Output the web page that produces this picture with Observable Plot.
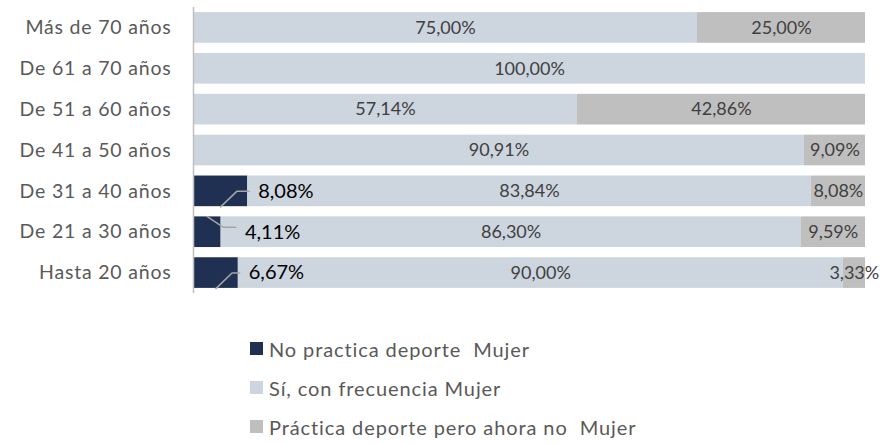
<!DOCTYPE html>
<html>
<head>
<meta charset="utf-8">
<script src="https://cdn.jsdelivr.net/npm/d3@7"></script>
<script src="https://cdn.jsdelivr.net/npm/@observablehq/plot@0.6"></script>
<style>
  body { margin: 0; background: #fff; font-family: Lato, sans-serif; }
  #legend { margin-top: 29px; padding-left: 250px; color: #595959; font-size: 20px; letter-spacing: 0.9px; }
  .row { height: 39px; display: flex; align-items: center; }
  .sw { width: 13px; height: 13px; margin-right: 6px; flex: none; }
  #chart g[aria-label="y-axis tick label"] text { letter-spacing: 0.8px; }
  #chart g[aria-label="segment labels"] text { letter-spacing: 0.5px; }
  #chart g[aria-label="dark labels"] text { letter-spacing: 0.4px; }
</style>
</head>
<body>
<div id="chart"></div>
<div id="legend"></div>
<script>
const categories = ["Más de 70 años","De 61 a 70 años","De 51 a 60 años","De 41 a 50 años","De 31 a 40 años","De 21 a 30 años","Hasta 20 años"];
const noPractica   = [0, 0, 0, 0, 8.08, 4.11, 6.67];
const siFrecuencia = [75.00, 100.00, 57.14, 90.91, 83.84, 86.30, 90.00];
const practicaAntes = [25.00, 0, 42.86, 9.09, 8.08, 9.59, 3.33];
const seriesNames = ["No practica deporte  Mujer", "Sí, con frecuencia Mujer", "Práctica deporte pero ahora no  Mujer"];
const colors = ["#1f3052", "#cdd5df", "#bfbfbf"];

const fmt = v => v.toFixed(2).replace(".", ",") + "%";

const rows = categories.flatMap((c, i) => {
  const vals = [noPractica[i], siFrecuencia[i], practicaAntes[i]];
  let acc = 0;
  return vals.map((v, s) => {
    const r = {cat: c, i, s, series: seriesNames[s], value: v, x1: acc, x2: acc + v};
    acc += v;
    return r;
  });
}).filter(d => d.value > 0);

const dark = rows.filter(d => d.s === 0);
// leader line end and label placement derived from the segment value
const leaderEnd = d => Math.max(d.x2 + 0.2, 6.3);
const labelX = d => leaderEnd(d) + 1.35;
const fromTop = d => d.value < 5;
const leaders = dark.flatMap(d => [
  {i: d.i, x: d.value * 0.5, y: d.i + (fromTop(d) ? -0.38 : 0.38)},
  {i: d.i, x: d.value * 0.5 + 2.4, y: d.i + (fromTop(d) ? -0.12 : 0)},
  {i: d.i, x: leaderEnd(d), y: d.i + (fromTop(d) ? -0.12 : 0)}
]);

const chart = Plot.plot({
  width: 881,
  height: 300,
  marginLeft: 193,
  marginRight: 16,
  marginTop: 7,
  marginBottom: 7,
  style: {fontFamily: "Lato, sans-serif", fontSize: "16px", background: "#fff"},
  x: {domain: [0, 100], axis: null},
  y: {domain: [-0.5, 6.5], reverse: true, axis: null},
  color: {domain: seriesNames, range: colors},
  marks: [
    Plot.rectX(rows, {x1: "x1", x2: "x2", y1: d => d.i - 0.375, y2: d => d.i + 0.375, fill: "series"}),
    Plot.text(rows.filter(d => d.s > 0), {x: d => (d.x1 + d.x2) / 2, y: "i", text: d => fmt(d.value), fill: "#404040", fontSize: 18, ariaLabel: "segment labels"}),
    Plot.line(leaders, {x: "x", y: "y", z: "i", stroke: "#a6a6a6", strokeWidth: 1.5}),
    Plot.text(dark, {x: labelX, y: "i", text: d => fmt(d.value), textAnchor: "start", fill: "#000", fontSize: 20, ariaLabel: "dark labels"}),
    Plot.ruleX([0], {stroke: "#bfbfbf", strokeWidth: 1.5}),
    Plot.axisY(d3.range(categories.length), {tickFormat: i => categories[i], tickSize: 0, tickPadding: 22, fontSize: 19.5, fill: "#595959"})
  ]
});
document.getElementById("chart").appendChild(chart);

const legend = document.getElementById("legend");
seriesNames.forEach((name, k) => {
  const row = document.createElement("div");
  row.className = "row";
  const sw = document.createElement("span");
  sw.className = "sw";
  sw.style.background = colors[k];
  const t = document.createElement("span");
  t.textContent = name;
  t.style.whiteSpace = "pre";
  row.appendChild(sw);
  row.appendChild(t);
  legend.appendChild(row);
});
</script>
</body>
</html>
